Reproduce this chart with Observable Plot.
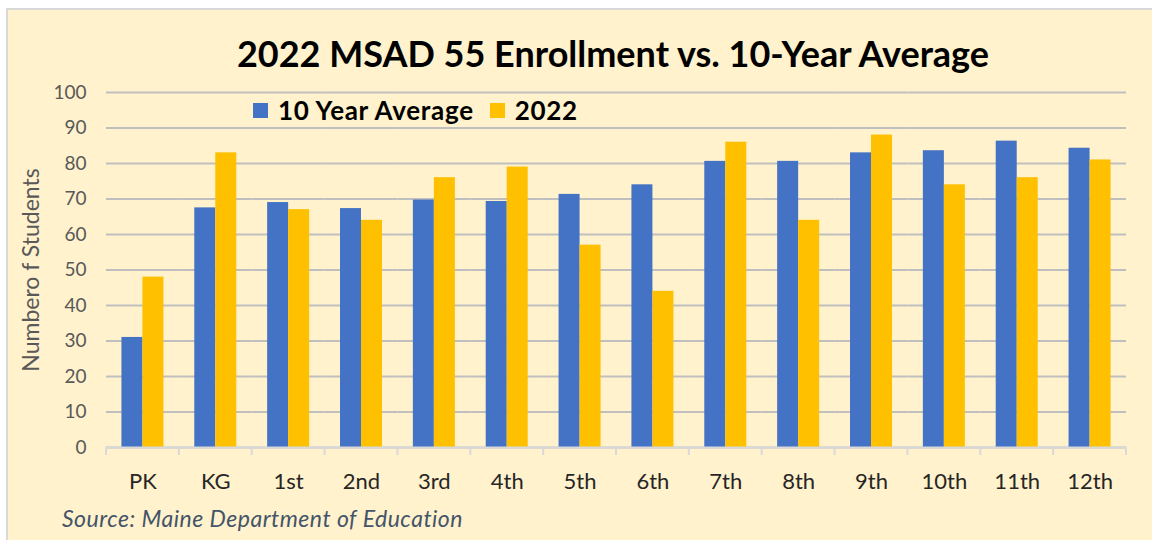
<!DOCTYPE html>
<html>
<head>
<meta charset="utf-8">
<script src="https://cdn.jsdelivr.net/npm/d3@7"></script>
<script src="https://cdn.jsdelivr.net/npm/@observablehq/plot@0.6"></script>
<style>
  html, body { margin: 0; padding: 0; background: #ffffff; }
  #wrap { position: relative; width: 1152px; height: 540px; overflow: hidden; font-family: Lato, "Open Sans", sans-serif; }
  #frame { position: absolute; left: 6px; top: 8px; width: 1160px; height: 560px; background: #FFF2CC; border-left: 2px solid #D9D9D9; border-top: 2px solid #D9D9D9; }
  #chart { position: absolute; left: 0; top: 0; }
  #title { position: absolute; left: 613px; top: 31px; transform: translateX(-50%); white-space: nowrap; font-weight: 700; font-size: 36px; color: #000; }
  #legend { position: absolute; left: 253px; top: 94px; display: flex; align-items: center; font-weight: 700; font-size: 26px; letter-spacing: 0.7px; color: #000; white-space: nowrap; }
  .sw { display: inline-block; width: 15px; height: 15px; margin-right: 10px; }
  .item { display: flex; align-items: center; margin-right: 16px; }
  #source { position: absolute; left: 62px; top: 504px; font-style: italic; font-size: 23px; letter-spacing: 0.5px; color: #44546A; white-space: nowrap; }
</style>
</head>
<body>
<div id="wrap">
  <div id="frame"></div>
  <div id="chart"></div>
  <div id="title"></div>
  <div id="legend"></div>
  <div id="source"></div>
</div>
<script>
const title = "2022 MSAD 55 Enrollment vs. 10-Year Average";
const source = "Source: Maine Department of Education";
const yLabel = "Numbero f Students";
const grades = ["PK", "KG", "1st", "2nd", "3rd", "4th", "5th", "6th", "7th", "8th", "9th", "10th", "11th", "12th"];
const series = ["10 Year Average", "2022"];
const avg10 = [31, 67.5, 69, 67.3, 69.7, 69.3, 71.3, 74, 80.6, 80.6, 83, 83.6, 86.3, 84.3];
const y2022 = [48, 83, 67, 64, 76, 79, 57, 44, 86, 64, 88, 74, 76, 81];
const yTicks = [0, 10, 20, 30, 40, 50, 60, 70, 80, 90, 100];
const colors = ["#4472C4", "#FFC000"];

const data = grades.flatMap((g, i) => [
  {grade: g, series: series[0], value: avg10[i]},
  {grade: g, series: series[1], value: y2022[i]}
]);

document.getElementById("title").textContent = title;
document.getElementById("source").textContent = source;
const legend = document.getElementById("legend");
series.forEach((s, i) => {
  const it = document.createElement("span");
  it.className = "item";
  const sw = document.createElement("span");
  sw.className = "sw";
  sw.style.background = colors[i];
  it.appendChild(sw);
  it.appendChild(document.createTextNode(s));
  legend.appendChild(it);
});

const chart = Plot.plot({
  width: 1152,
  height: 540,
  marginLeft: 106,
  marginRight: 26,
  marginTop: 92,
  marginBottom: 93,
  style: {background: "transparent", fontFamily: "Lato, 'Open Sans', sans-serif", overflow: "visible"},
  fx: {domain: grades, padding: 0, round: false, label: null},
  x: {domain: series, paddingInner: 0, paddingOuter: 0.735, round: false, axis: null},
  y: {domain: [0, 100], label: null},
  color: {domain: series, range: colors},
  marks: [
    Plot.gridY(yTicks, {stroke: "#BFBFBF", strokeOpacity: 1, strokeWidth: 2}),
    Plot.axisY(yTicks, {tickSize: 0, tickPadding: 20, fontSize: 19, fill: "#595959", label: null}),
    Plot.axisY([], {tickSize: 0, fontSize: 23, fill: "#595959", label: yLabel, labelAnchor: "center", labelArrow: "none", labelOffset: 84}),
    Plot.axisFx({anchor: "bottom", tickSize: 0, tickPadding: 26, fontSize: 22, fill: "#262626", label: null}),
    Plot.barY(data, {fx: "grade", x: "series", y: "value", fill: "series"}),
    Plot.ruleY([0], {stroke: "#D9D9D9", strokeWidth: 2})
  ]
});
document.getElementById("chart").appendChild(chart);

// category boundary tick marks below the baseline, positioned from Plot's scales
const fx = chart.scale("fx");
const ys = chart.scale("y");
const bounds = grades.map(g => fx.apply(g)).concat([fx.apply(grades[grades.length - 1]) + fx.bandwidth]);
const y0 = ys.apply(0);
d3.select(chart).append("g")
  .selectAll("line").data(bounds).join("line")
  .attr("x1", d => d).attr("x2", d => d)
  .attr("y1", y0).attr("y2", y0 + 8)
  .attr("stroke", "#D9D9D9").attr("stroke-width", 2);
</script>
</body>
</html>
